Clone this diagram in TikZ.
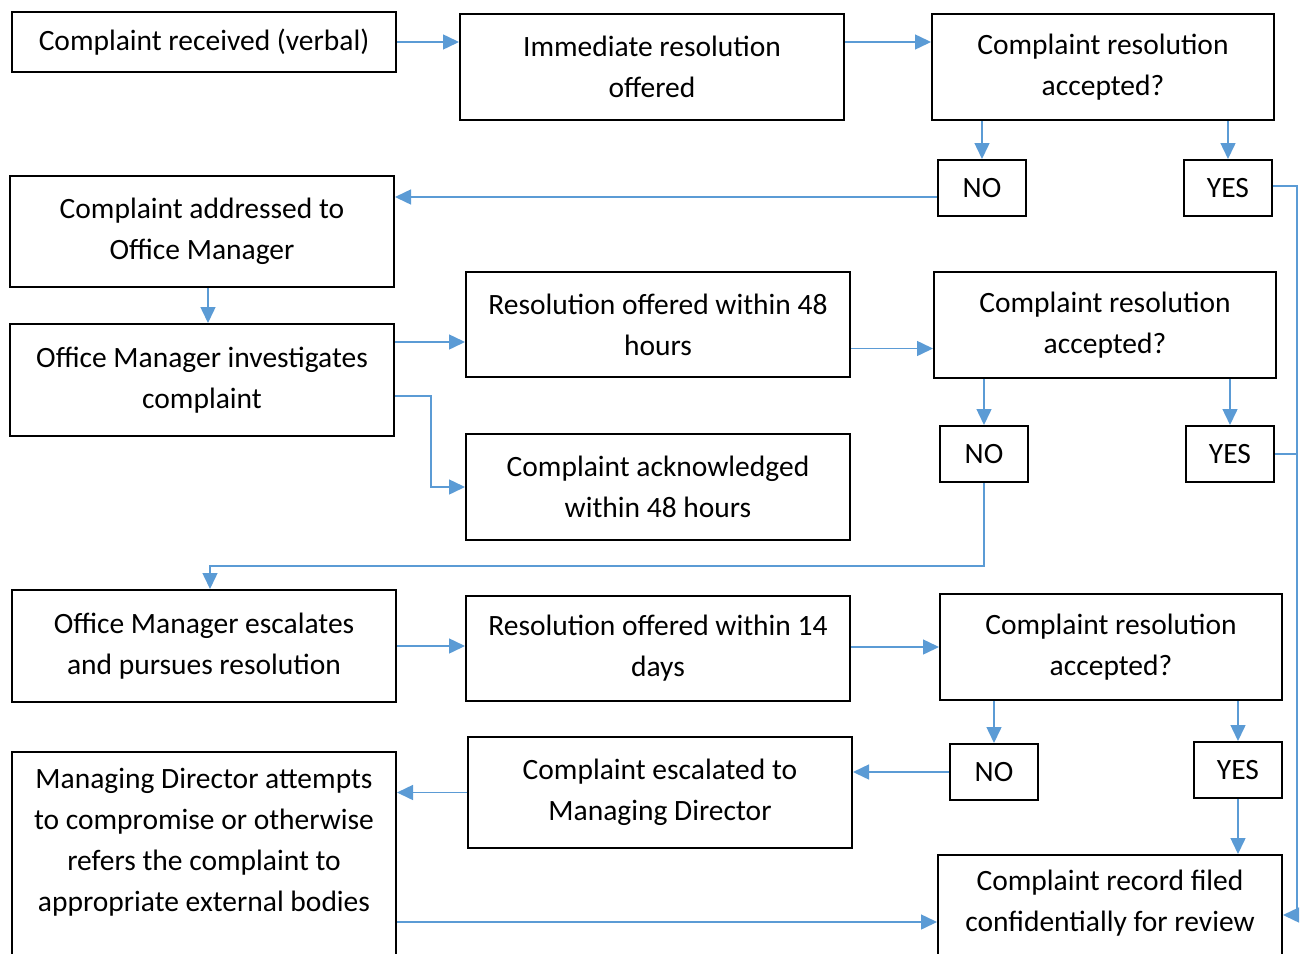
\documentclass[tikz,border=0pt]{standalone}
\usepackage{fontspec}
\setmainfont{Carlito}
\usetikzlibrary{arrows.meta,calc}
\definecolor{conn}{RGB}{91,155,213}
\begin{document}
\begin{tikzpicture}[x=1pt,y=-1pt,
  box/.style={draw=black,line width=2pt,rectangle,align=center,inner sep=0pt,
    font=\fontsize{29.5}{41}\selectfont},
  txt/.style={align=center,inner sep=0pt,font=\fontsize{29.5}{41}\selectfont},
  arr/.style={draw=conn,line width=1.5pt,-{Triangle[length=16pt 0,width=15pt 0]}},
  ln/.style={draw=conn,line width=1.5pt}]
\useasboundingbox (0,0) rectangle (1306,953);
\begin{scope}
\clip (0,0) rectangle (1306,953);
\node[box,minimum width=384,minimum height=60] (recv) at (204,42) {Complaint received (verbal)};
\node[box,minimum width=384,minimum height=106] (imm) at (652,67) {Immediate resolution\\offered};
\node[box,minimum width=342,minimum height=106] (acc1) at (1103,67) {Complaint resolution\\accepted?};
\node[box,minimum width=88,minimum height=56] (no1) at (982,188) {NO};
\node[box,minimum width=88,minimum height=56] (yes1) at (1228,188) {YES};
\node[box,minimum width=384,minimum height=111] (addr) at (202,231.5) {Complaint addressed to\\Office Manager};
\node[box,minimum width=384,minimum height=112] (inv) at (202,380) {Office Manager investigates\\complaint};
\node[box,minimum width=384,minimum height=105] (res48) at (658,324.5) {Resolution offered within 48\\hours};
\node[box,minimum width=342,minimum height=106] (acc2) at (1105,325) {Complaint resolution\\accepted?};
\node[box,minimum width=88,minimum height=56] (no2) at (984,454) {NO};
\node[box,minimum width=88,minimum height=56] (yes2) at (1230,454) {YES};
\node[box,minimum width=384,minimum height=106] (ack) at (658,487) {Complaint acknowledged\\within 48 hours};
\node[box,minimum width=384,minimum height=112] (esc) at (204,646) {Office Manager escalates\\and pursues resolution};
\node[box,minimum width=384,minimum height=105] (res14) at (658,648.5) {Resolution offered within 14\\days};
\node[box,minimum width=342,minimum height=106] (acc3) at (1111,647) {Complaint resolution\\accepted?};
\node[box,minimum width=88,minimum height=56] (no3) at (994,772) {NO};
\node[box,minimum width=88,minimum height=56] (yes3) at (1238,770) {YES};
\node[box,minimum width=384,minimum height=111] (emd) at (660,792.5) {Complaint escalated to\\Managing Director};
\node[box,minimum width=384,minimum height=223] (md) at (204,863.5) {};
\node[txt] (mdt) at (204,842) {Managing Director attempts\\to compromise or otherwise\\refers the complaint to\\appropriate external bodies};
\node[box,minimum width=344,minimum height=120] (rec) at (1110,915) {};
\node[txt] (rect) at (1110,903.5) {Complaint record filed\\confidentially for review};

\coordinate (rt) at (1297,186);
\coordinate (j) at (210,566);
\coordinate (b) at (0,922);

\path[arr] (recv.east) -- (recv.east -| imm.west);
\path[arr] (recv.east -| imm.east) -- (recv.east -| acc1.west);
\path[arr] (no1.north |- acc1.south) -- (no1.north);
\path[arr] (yes1.north |- acc1.south) -- (yes1.north);
\path[arr] ([yshift=-9pt]no1.west) -- ([yshift=-9pt]no1.west -| addr.east);
\path[arr] ([yshift=2pt]yes1.east) -- (rt) -- (rt |- rec.east) -- (rec.east);
\path[ln] (yes2.east) -- (yes2.east -| rt);
\path[arr] ([xshift=6pt]addr.south) -- ([xshift=6pt]inv.north);
\path[arr] ([yshift=38pt]inv.east) -- ([yshift=38pt]inv.east -| res48.west);
\path[arr] ([yshift=-16pt]inv.east) -- ++(36,0) |- (ack.west);
\path[arr] ([yshift=-24pt]res48.east) -- ([yshift=-24pt]res48.east -| acc2.west);
\path[arr] (no2.north |- acc2.south) -- (no2.north);
\path[arr] (yes2.north |- acc2.south) -- (yes2.north);
\path[arr] (no2.south) -- (no2.south |- j) -- (j) -- (j |- esc.north);
\path[arr] (esc.east) -- (esc.east -| res14.west);
\path[arr] (res14.east |- acc3.west) -- (acc3.west);
\path[arr] (no3.north |- acc3.south) -- (no3.north);
\path[arr] (yes3.north |- acc3.south) -- (yes3.north);
\path[arr] (no3.west) -- (no3.west -| emd.east);
\path[arr] (emd.west) -- (emd.west -| md.east);
\path[arr] (yes3.south) -- (yes3.south |- rec.north);
\path[arr] (b -| md.east) -- (b -| rec.west);
\end{scope}
\end{tikzpicture}
\end{document}
